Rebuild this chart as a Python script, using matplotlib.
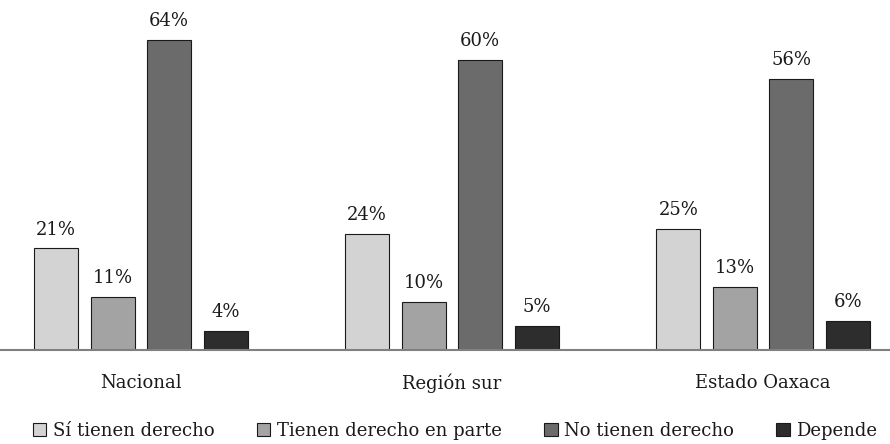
import matplotlib
matplotlib.use("Agg")
import matplotlib.pyplot as plt
import numpy as np

categories = ["Nacional", "Región sur", "Estado Oaxaca"]
series_names = ["Sí tienen derecho", "Tienen derecho en parte", "No tienen derecho", "Depende"]
si_tienen = [21, 24, 25]
en_parte = [11, 10, 13]
no_tienen = [64, 60, 56]
depende = [4, 5, 6]
series_values = [si_tienen, en_parte, no_tienen, depende]
colors = ["#d3d3d3", "#a3a3a3", "#6b6b6b", "#2d2d2d"]

plt.rcParams["font.family"] = ["DejaVu Serif"]

fig = plt.figure(figsize=(8.9, 4.44), dpi=100)
ax = fig.add_axes([0, 94 / 444, 1, 350 / 444])

x = np.arange(len(categories))
width = 0.1415
pitch = 0.1817
offsets = (np.arange(4) - 1.5) * pitch

handles = []
for i, (name, vals, col) in enumerate(zip(series_names, series_values, colors)):
    bars = ax.bar(x + offsets[i], vals, width, color=col, edgecolor="#1a1a1a",
                  linewidth=0.8, label=name, zorder=2)
    handles.append(bars)
    for b, v in zip(bars, vals):
        ax.text(b.get_x() + b.get_width() / 2, v + 2.0, f"{v}%", ha="center",
                va="bottom", fontsize=13, color="#1a1a1a")

ax.set_xlim(-0.453, 2.408)
ax.set_ylim(0, 72.3)
for s in ["top", "right", "left"]:
    ax.spines[s].set_visible(False)
ax.spines["bottom"].set_color("#808080")
ax.spines["bottom"].set_linewidth(1.5)
ax.set_yticks([])
ax.set_xticks(x)
ax.set_xticklabels(categories, fontsize=13, color="#1a1a1a")
ax.tick_params(axis="x", length=0, pad=17)

fig.legend(handles=handles, labels=series_names, loc="center",
           bbox_to_anchor=(455 / 890, 13 / 444), ncol=4, frameon=False, fontsize=13,
           handlelength=0.75, handleheight=0.75, handletextpad=0.35,
           columnspacing=2.35, labelcolor="#1a1a1a")

fig.savefig("out.png", dpi=100)
